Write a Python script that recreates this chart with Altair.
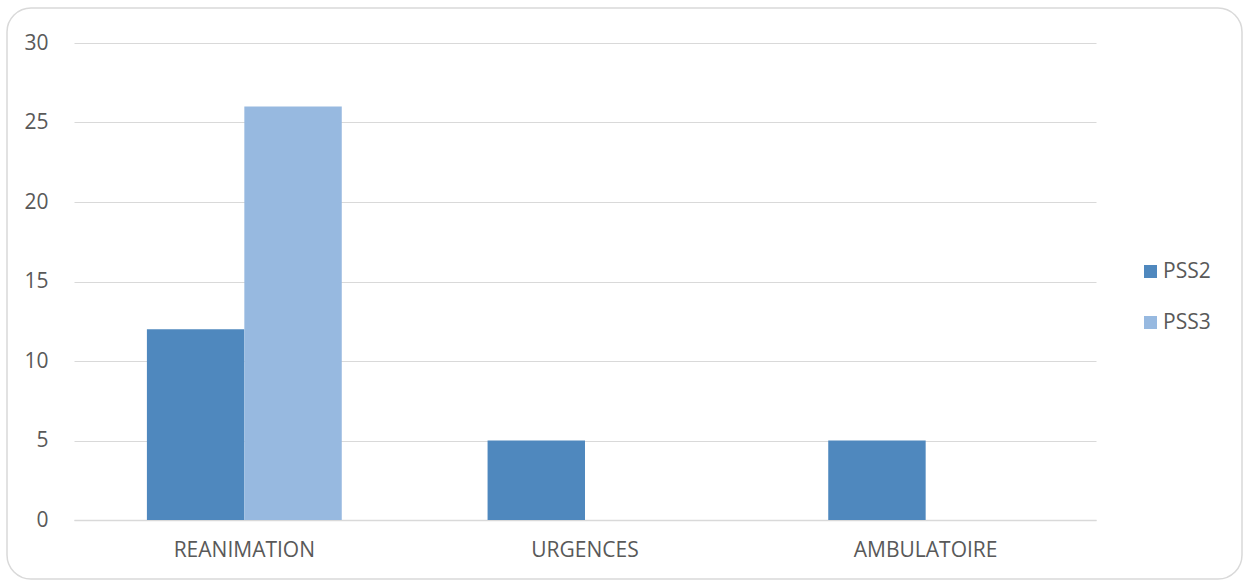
import altair as alt
import pandas as pd

# Values per service and PSS grade
categories = ["REANIMATION", "URGENCES", "AMBULATOIRE"]
pss2 = [12, 5, 5]
pss3 = [26, 0, 0]
series = ["PSS2", "PSS3"]
colors = ["#4F88BE", "#97B9E0"]

rows = []
for cat, a, b in zip(categories, pss2, pss3):
    rows.append({"service": cat, "serie": "PSS2", "valeur": a})
    rows.append({"service": cat, "serie": "PSS3", "valeur": b})
df = pd.DataFrame(rows)

FONT = "Open Sans"
TXT = "#595959"
GRID = "#D9D9D9"

# Rounded frame around the whole chart (outline only)
frame = alt.Chart(pd.DataFrame({"k": [0]})).mark_rect(
    fill=None, fillOpacity=0, stroke="#D9D9D9", strokeWidth=1.5, cornerRadius=24
).encode(
    x=alt.value(-67), x2=alt.value(1168), y=alt.value(-35), y2=alt.value(536)
)

bars = alt.Chart(df).mark_bar().encode(
    x=alt.X(
        "service:N",
        sort=categories,
        scale=alt.Scale(paddingInner=0.428, paddingOuter=0.214),
        axis=alt.Axis(
            title=None, labelAngle=0, ticks=False, grid=False, domainColor=GRID,
            domainWidth=1.5, labelPadding=19, labelFontSize=21,
            labelColor=TXT, labelFont=FONT,
        ),
    ),
    xOffset=alt.XOffset("serie:N", sort=series, scale=alt.Scale(paddingInner=0, paddingOuter=0)),
    y=alt.Y(
        "valeur:Q",
        scale=alt.Scale(domain=[0, 30], nice=False),
        axis=alt.Axis(
            title=None, values=[0, 5, 10, 15, 20, 25, 30], ticks=False, domain=False,
            gridColor=GRID, gridWidth=1.2, labelPadding=26, labelFontSize=21,
            labelColor=TXT, labelFont=FONT,
        ),
    ),
    color=alt.Color(
        "serie:N",
        sort=series,
        scale=alt.Scale(domain=series, range=colors),
        legend=alt.Legend(
            title=None, orient="none", legendX=1066, legendY=218,
            symbolType="square", symbolSize=170, symbolStrokeWidth=0,
            labelFontSize=21, labelColor=TXT, labelFont=FONT,
            rowPadding=29, labelOffset=2,
        ),
    ),
)

chart = alt.layer(frame, bars).properties(
    width=1022,
    height=477,
    background="white",
    autosize=alt.AutoSizeParams(type="none"),
    padding={"left": 74, "top": 43, "right": 148, "bottom": 60},
).configure_view(strokeWidth=0, stroke="transparent")

chart.save("out.html", embed_options={"renderer": "svg", "actions": False})
